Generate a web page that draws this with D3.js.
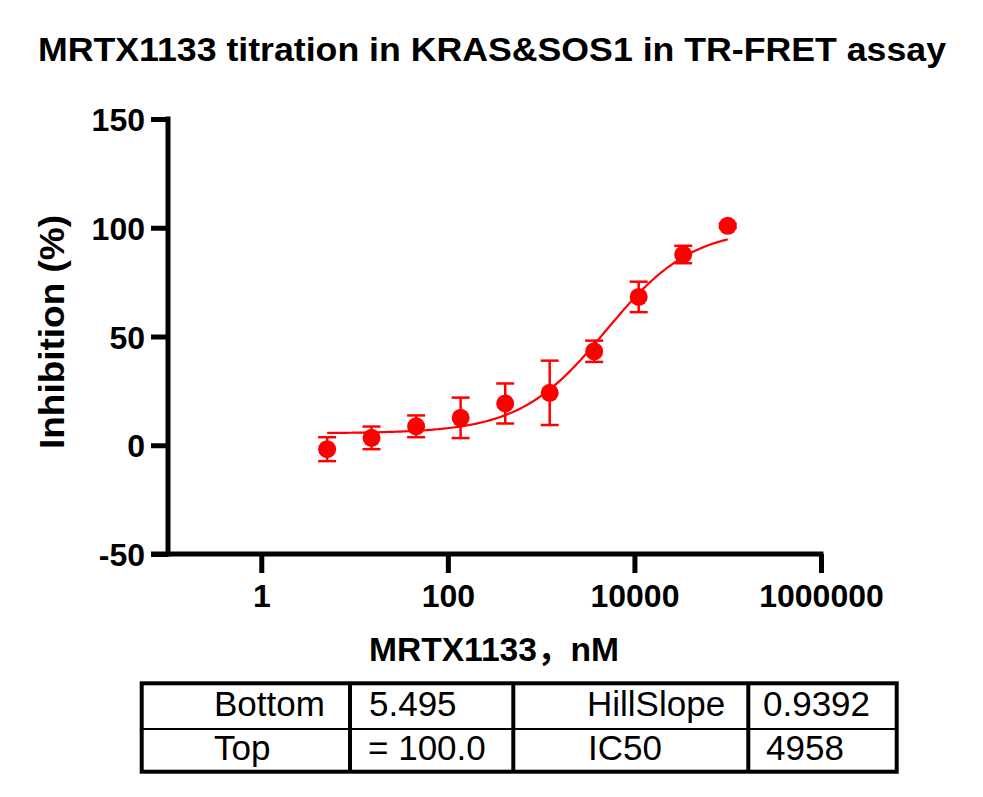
<!DOCTYPE html>
<html>
<head>
<meta charset="utf-8">
<script src="https://cdn.jsdelivr.net/npm/d3@7"></script>
<style>
  html, body { margin: 0; padding: 0; background: #fff; }
  svg { display: block; }
  text { font-family: "Liberation Sans", Arial, "Noto Sans CJK SC", sans-serif; fill: #000; }
</style>
</head>
<body>
<svg id="chart" width="983" height="797"></svg>
<script>
// ---- data ----
const concentrations = [5.08, 15.2, 45.7, 137, 412, 1235, 3704, 11111, 33333, 100000]; // nM
const inhibition = [-1.8, 3.4, 8.7, 12.6, 19.2, 24.1, 43.2, 68.2, 87.7, 100.9];     // %
const errorSD = [5.5, 5.2, 5.0, 9.3, 9.2, 14.8, 4.9, 7.0, 4.0, 1.0];
const xTicks = [1, 100, 10000, 1000000];
const xTickLabels = ["1", "100", "10000", "1000000"];
const yTicks = [-50, 0, 50, 100, 150];
const yTickLabels = ["-50", "0", "50", "100", "150"];
const fitBottom = 5.495, fitTop = 100.0, fitHill = 0.9392, fitIC50 = 4958;
const paramNames = ["Bottom", "Top", "HillSlope", "IC50"];
const paramValues = ["5.495", "= 100.0", "0.9392", "4958"];
const titleText = "MRTX1133 titration in KRAS&SOS1 in TR-FRET assay";
const xLabel = "MRTX1133，nM";
const yLabel = "Inhibition (%)";

const svg = d3.select("#chart");
const red = "#ff0000";

const x = d3.scaleLog().domain([0.1, 1e6]).range([168, 821]);
const y = d3.scaleLinear().domain([-50, 150]).range([554, 119]);

// title
svg.append("text").attr("x", 38).attr("y", 61)
  .attr("font-size", 34).attr("font-weight", "bold")
  .attr("textLength", 908).attr("lengthAdjust", "spacingAndGlyphs")
  .text(titleText);

// axes
const yAxis = d3.axisLeft(y).tickValues(yTicks).tickSize(17).tickPadding(6)
  .tickFormat((d, i) => yTickLabels[i]);
const gy = svg.append("g").attr("transform", "translate(168,0)").call(yAxis);
const xAxis = d3.axisBottom(x).tickValues(xTicks).tickSize(19).tickPadding(12)
  .tickFormat((d, i) => xTickLabels[i]);
const gx = svg.append("g").attr("transform", "translate(0,554)").call(xAxis);

[gx, gy].forEach(g => {
  g.select(".domain").remove();
  g.selectAll(".tick line").attr("stroke", "#000").attr("stroke-width", 5);
  g.selectAll(".tick text").attr("font-size", 32).attr("font-weight", "bold")
    .attr("font-family", "'Liberation Sans', Arial, sans-serif").attr("fill", "#000");
});
gy.selectAll(".tick text").attr("dy", "0.36em");
gx.selectAll(".tick text").attr("dy", "0.69em");

// axis lines
svg.append("line").attr("x1", x(0.1)).attr("x2", x(0.1)).attr("y1", y(150) - 2.5).attr("y2", y(-50) + 2.5)
  .attr("stroke", "#000").attr("stroke-width", 5);
svg.append("line").attr("x1", x(0.1) - 17).attr("x2", x(1e6) + 2.5).attr("y1", y(-50)).attr("y2", y(-50))
  .attr("stroke", "#000").attr("stroke-width", 5);

// axis labels
svg.append("text").attr("x", 494).attr("y", 661).attr("text-anchor", "middle")
  .attr("font-size", 34).attr("font-weight", "bold")
  .attr("textLength", 250).attr("lengthAdjust", "spacingAndGlyphs")
  .text(xLabel);
svg.append("text").attr("transform", "translate(64,332) rotate(-90)").attr("text-anchor", "middle")
  .attr("font-size", 35).attr("font-weight", "bold")
  .attr("textLength", 234).attr("lengthAdjust", "spacingAndGlyphs")
  .text(yLabel);

// fit curve
const fit = c => fitBottom + (fitTop - fitBottom) / (1 + Math.pow(fitIC50 / c, fitHill));
const lx0 = Math.log10(concentrations[0]), lx1 = Math.log10(concentrations[concentrations.length - 1]);
const curve = d3.range(0, 201).map(i => Math.pow(10, lx0 + (lx1 - lx0) * i / 200));
svg.append("path").datum(curve)
  .attr("d", d3.line().x(c => x(c)).y(c => y(fit(c))))
  .attr("fill", "none").attr("stroke", red).attr("stroke-width", 2.2);

// error bars
const pts = concentrations.map((c, i) => ({ c, v: inhibition[i], e: errorSD[i] }));
const eb = svg.append("g").attr("stroke", red).attr("stroke-width", 2.5);
pts.forEach(p => {
  eb.append("line").attr("x1", x(p.c)).attr("x2", x(p.c)).attr("y1", y(p.v + p.e)).attr("y2", y(p.v - p.e));
  [p.v + p.e, p.v - p.e].forEach(v => {
    eb.append("line").attr("x1", x(p.c) - 9).attr("x2", x(p.c) + 9).attr("y1", y(v)).attr("y2", y(v));
  });
});
// markers
svg.append("g").selectAll("circle").data(pts).join("circle")
  .attr("cx", p => x(p.c)).attr("cy", p => y(p.v)).attr("r", 9).attr("fill", red);

// parameter table
const tb = svg.append("g");
tb.append("rect").attr("x", 141.7).attr("y", 683.3).attr("width", 755).attr("height", 88.4)
  .attr("fill", "none").attr("stroke", "#000").attr("stroke-width", 4);
tb.append("line").attr("x1", 141.7).attr("x2", 896.7).attr("y1", 729).attr("y2", 729)
  .attr("stroke", "#000").attr("stroke-width", 2.2);
[350, 513.3, 748.3].forEach(cx => {
  tb.append("line").attr("x1", cx).attr("x2", cx).attr("y1", 683.3).attr("y2", 771.7)
    .attr("stroke", "#000").attr("stroke-width", 4);
});
const nameX = [214, 214, 587, 588];
const valX = [369, 368, 763, 766];
const rowY = [716, 760, 716, 760];
paramNames.forEach((n, i) => {
  tb.append("text").attr("x", nameX[i]).attr("y", rowY[i]).attr("font-size", 35).text(n);
  tb.append("text").attr("x", valX[i]).attr("y", rowY[i]).attr("font-size", 35).text(paramValues[i]);
});
</script>
</body>
</html>
